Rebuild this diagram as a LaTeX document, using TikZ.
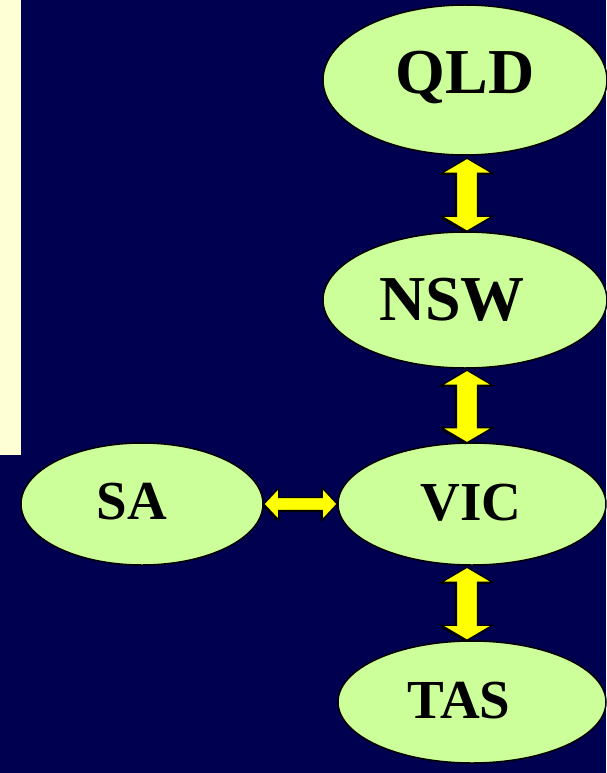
\documentclass[tikz,border=0pt]{standalone}
\usepackage{fontspec}
\setmainfont{Liberation Serif}
\usetikzlibrary{calc,shapes.geometric}
\definecolor{navy}{RGB}{0,0,80}
\definecolor{cream}{RGB}{255,255,214}
\definecolor{pale}{RGB}{204,255,153}
\definecolor{yell}{RGB}{255,255,0}
\tikzset{
  state/.style={ellipse, draw=black, line width=1.5pt, fill=pale, inner sep=0pt},
  bigname/.style={anchor=base, inner sep=0pt, font=\fontsize{64}{64}\selectfont\bfseries},
  smallname/.style={anchor=base, inner sep=0pt, font=\fontsize{55}{55}\selectfont\bfseries},
  fat/.style={draw=black, line width=1.3pt, fill=yell, line join=miter,
    preaction={fill=black, transform canvas={shift={(-1.6pt,-1.6pt)}}}}
}
\newcommand\vfat[5]{%
  \draw[fat] (#1) -- ($(#1)+(#4,#5)$) -- ($(#1)+(#3,#5)$) -- ($(#2)+(#3,-#5)$) -- ($(#2)+(#4,-#5)$) -- (#2)
    -- ($(#2)+(-#4,-#5)$) -- ($(#2)+(-#3,-#5)$) -- ($(#1)+(-#3,#5)$) -- ($(#1)+(-#4,#5)$) -- cycle;}
\newcommand\hfat[5]{%
  \draw[fat] (#1) -- ($(#1)+(#5,#4)$) -- ($(#1)+(#5,#3)$) -- ($(#2)+(-#5,#3)$) -- ($(#2)+(-#5,#4)$) -- (#2)
    -- ($(#2)+(-#5,-#4)$) -- ($(#2)+(-#5,-#3)$) -- ($(#1)+(#5,-#3)$) -- ($(#1)+(#5,-#4)$) -- cycle;}
\begin{document}
\begin{tikzpicture}[x=1pt,y=-1pt]
\useasboundingbox (0,0) rectangle (606,773);
\fill[navy] (0,0) rectangle (606,773);
\fill[cream] (0,0) rectangle (21,455);

\node[state, minimum width=284pt, minimum height=150pt] (qld) at (465,80) {};
\node[state, minimum width=284pt, minimum height=136pt] (nsw) at (465,300) {};
\node[state, minimum width=268pt, minimum height=122pt] (vic) at (472,504) {};
\node[state, minimum width=268pt, minimum height=122pt] (tas) at (472,702) {};
\node[state, minimum width=242pt, minimum height=122pt] (sa) at (142,504) {};

\node[bigname] (qldt) at (465,94) {QLD};
\node[bigname] (nswt) at (452,320) {NSW};
\node[smallname] (vict) at (471,520) {VIC};
\node[smallname] (tast) at (459,718) {TAS};
\node[smallname] (sat) at (132,519) {SA};

\coordinate (a1) at ($(qld.south)+(2,2.5)$);
\coordinate (a2) at ($(nsw.north)+(2,0)$);
\coordinate (b1) at ($(nsw.south)+(2,1.5)$);
\coordinate (b2) at ($(vic.north)+(-5,0.5)$);
\coordinate (c1) at ($(vic.south)+(-5,1.5)$);
\coordinate (c2) at ($(tas.north)+(-5,0)$);
\coordinate (d1) at ($(sa.east)+(0,0)$);
\coordinate (d2) at ($(vic.west)+(0,0)$);

\vfat{a1}{a2}{10.5}{25.5}{15}
\vfat{b1}{b2}{10.5}{25.5}{15}
\vfat{c1}{c2}{10.5}{25.5}{15}
\hfat{d1}{d2}{6.5}{16}{15}
\end{tikzpicture}
\end{document}
